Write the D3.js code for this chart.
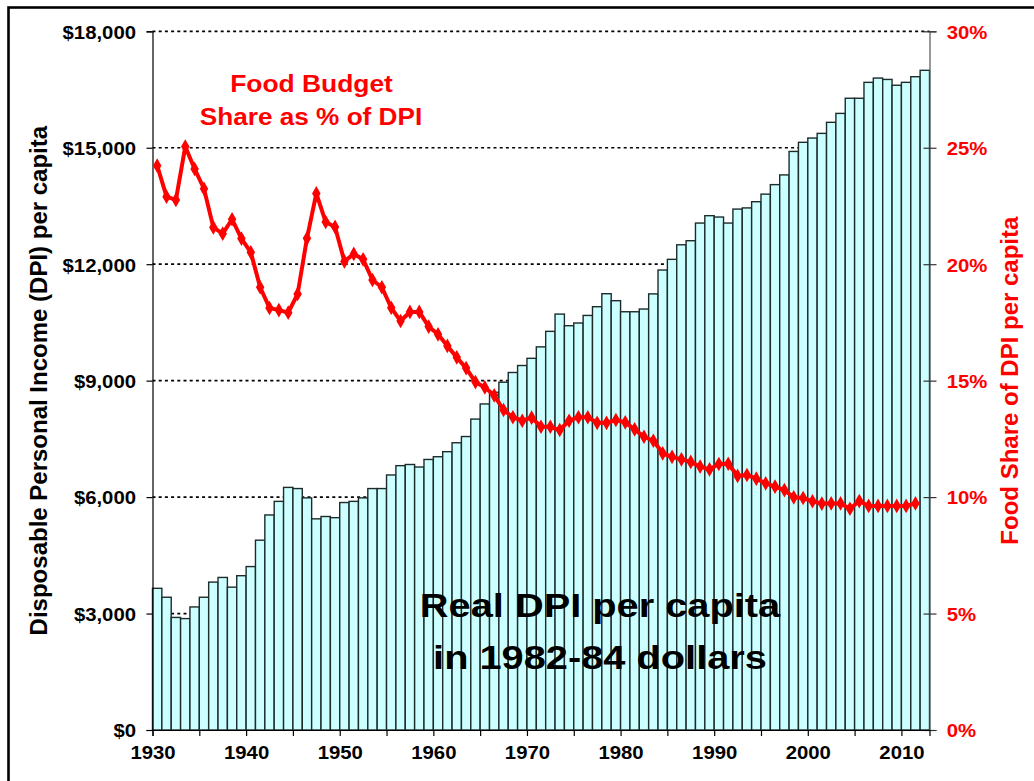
<!DOCTYPE html>
<html>
<head>
<meta charset="utf-8">
<script src="https://cdn.jsdelivr.net/npm/d3@7"></script>
<style>
  html, body { margin: 0; padding: 0; background: #fff; overflow: hidden; }
  svg { display: block; font-family: "Liberation Sans", Arial, sans-serif; }
</style>
</head>
<body>
<svg id="chart" width="1034" height="781"></svg>
<script>
// ---- data ----
const years = d3.range(1930, 2013); // 1930..2012
const dpiPerCapita = [
  3650, 3420, 2900, 2870, 3170, 3420, 3810, 3930, 3680, 3975,
  4210, 4890, 5540, 5890, 6250, 6220, 5980, 5440, 5500, 5470,
  5860, 5890, 5980, 6220, 6220, 6570, 6810, 6840, 6775, 6970,
  7040, 7170, 7400, 7560, 8010, 8400, 8700, 8960, 9210, 9390,
  9575, 9870, 10270, 10715, 10415, 10485, 10680, 10905, 11240, 11060,
  10775, 10775, 10845, 11235, 11850, 12125, 12500, 12605, 13060, 13250,
  13215, 13060, 13420, 13450, 13610, 13805, 14050, 14300, 14905, 15140,
  15250, 15370, 15655, 15885, 16275, 16275, 16685, 16795, 16760, 16610,
  16685, 16830, 16995
];
const foodYears = d3.range(1930, 2012); // 1930..2011
const foodShare = [
  24.23, 22.90, 22.76, 25.05, 24.09, 23.24, 21.58, 21.31, 21.93, 21.10,
  20.51, 19.01, 18.12, 18.03, 17.92, 18.72, 21.11, 23.04, 21.81, 21.60,
  20.12, 20.44, 20.21, 19.32, 19.01, 18.13, 17.56, 17.95, 17.95, 17.32,
  16.99, 16.49, 16.00, 15.54, 14.94, 14.71, 14.37, 13.74, 13.43, 13.28,
  13.41, 13.02, 13.02, 12.88, 13.28, 13.43, 13.43, 13.19, 13.19, 13.31,
  13.21, 12.91, 12.59, 12.42, 11.88, 11.73, 11.62, 11.51, 11.31, 11.19,
  11.42, 11.43, 10.91, 10.95, 10.79, 10.59, 10.45, 10.30, 9.99, 9.96,
  9.82, 9.72, 9.73, 9.73, 9.50, 9.83, 9.62, 9.62, 9.62, 9.62,
  9.62, 9.73
];
const leftTicks = [0, 3000, 6000, 9000, 12000, 15000, 18000];
const rightTicks = [0, 5, 10, 15, 20, 25, 30];
const xTickYears = d3.range(1930, 2011, 5);
const xLabelYears = [1930, 1940, 1950, 1960, 1970, 1980, 1990, 2000, 2010];

// ---- layout ----
const L = 152.5, R = 929.5, T = 31.3, B = 730;
const svg = d3.select("#chart");
const SX = 1.07; // horizontal stretch of glyphs in reference

const x = d3.scaleLinear().domain([1930, 2013]).range([L, R]);
const yL = d3.scaleLinear().domain([0, 18000]).range([B, T]);
const yR = d3.scaleLinear().domain([0, 30]).range([B, T]);

// frame
svg.append("rect").attr("x", 8.5).attr("y", 7.5).attr("width", 1100).attr("height", 900)
  .attr("fill", "#fff").attr("stroke", "#000").attr("stroke-width", 2.6);

// gridlines
svg.append("g").selectAll("line").data(leftTicks.filter(d => d > 0)).join("line")
  .attr("x1", L).attr("x2", R)
  .attr("y1", d => yL(d)).attr("y2", d => yL(d))
  .attr("stroke", "#000").attr("stroke-width", 1.7).attr("stroke-dasharray", "3,3.2");

// bars
svg.append("g").selectAll("rect").data(years).join("rect")
  .attr("x", d => x(d))
  .attr("width", d => x(d + 1) - x(d))
  .attr("y", (d, i) => yL(dpiPerCapita[i]))
  .attr("height", (d, i) => B - yL(dpiPerCapita[i]))
  .attr("fill", "#CCFFFF").attr("stroke", "#1d2b2b").attr("stroke-width", 1.4);

// axes
const gL = svg.append("g").attr("transform", `translate(${L},0)`)
  .call(d3.axisLeft(yL).tickValues(leftTicks).tickSize(6).tickPadding(0)
    .tickFormat(d => "$" + d3.format(",")(d)));
gL.select(".domain").attr("stroke", "#000").attr("stroke-width", 1.2);
gL.selectAll(".tick line").attr("stroke", "#000").attr("stroke-width", 1.2);
gL.selectAll(".tick text")
  .attr("x", -16.5 / SX).attr("dy", "0.36em")
  .attr("transform", `scale(${SX},1)`)
  .attr("font-size", 19).attr("font-weight", "bold").attr("fill", "#000")
  .attr("font-family", "'Liberation Sans', Arial, sans-serif");

const gR = svg.append("g").attr("transform", `translate(${R},0)`)
  .call(d3.axisRight(yR).tickValues(rightTicks).tickSize(7).tickPadding(0)
    .tickFormat(d => d + "%"));
gR.select(".domain").attr("stroke", "#555").attr("stroke-width", 1.2);
gR.selectAll(".tick line").attr("x1", -6).attr("stroke", "#333").attr("stroke-width", 1.2);
gR.selectAll(".tick text")
  .attr("x", 17.2 / SX).attr("dy", "0.36em")
  .attr("transform", `scale(${SX},1)`)
  .attr("font-size", 19).attr("font-weight", "bold").attr("fill", "#FF0000")
  .attr("font-family", "'Liberation Sans', Arial, sans-serif");

const gX = svg.append("g").attr("transform", `translate(0,${B})`)
  .call(d3.axisBottom(x).tickValues(xTickYears).tickSize(6)
    .tickFormat(d => xLabelYears.includes(d) ? String(d) : ""));
gX.select(".domain").attr("stroke", "#000").attr("stroke-width", 1.2);
gX.selectAll(".tick line").attr("stroke", "#000").attr("stroke-width", 1.2);
gX.selectAll(".tick text")
  .attr("y", 29).attr("dy", 0)
  .attr("transform", `scale(${SX},1)`)
  .attr("font-size", 19).attr("font-weight", "bold").attr("fill", "#000")
  .attr("font-family", "'Liberation Sans', Arial, sans-serif");

// food share line
const line = d3.line().x((d, i) => x(foodYears[i] + 0.5)).y(d => yR(d));
svg.append("path").datum(foodShare).attr("d", line)
  .attr("fill", "none").attr("stroke", "#FF0000").attr("stroke-width", 4)
  .attr("stroke-linejoin", "round");
svg.append("g").selectAll("path").data(foodShare).join("path")
  .attr("transform", (d, i) => `translate(${x(foodYears[i] + 0.5)},${yR(d)})`)
  .attr("d", d3.symbol().type(d3.symbolDiamond).size(62))
  .attr("fill", "#FF0000");

// axis titles
svg.append("text").attr("transform", `translate(47,${(T + B) / 2}) rotate(-90)`)
  .attr("text-anchor", "middle").attr("font-size", 24).attr("font-weight", "bold")
  .attr("fill", "#000").text("Disposable Personal Income (DPI) per capita");
svg.append("text").attr("transform", `translate(1018,${(T + B) / 2}) rotate(-90)`)
  .attr("text-anchor", "middle").attr("font-size", 24).attr("font-weight", "bold")
  .attr("fill", "#FF0000").text("Food Share of DPI per capita");

// annotations
const ann = [
  { t: "Food Budget", x: 311.5, y: 92.3, s: 24, c: "#FF0000", sx: 1.1 },
  { t: "Share as % of DPI", x: 311, y: 125, s: 24, c: "#FF0000", sx: 1.09 },
  { t: "Real DPI per capita", x: 600, y: 617, s: 34, c: "#000", sx: 1.17 },
  { t: "in 1982-84 dollars", x: 600, y: 669, s: 34, c: "#000", sx: 1.17 }
];
svg.append("g").selectAll("text").data(ann).join("text")
  .attr("transform", d => `translate(${d.x},${d.y}) scale(${d.sx},1)`)
  .attr("text-anchor", "middle").attr("font-size", d => d.s).attr("font-weight", "bold")
  .attr("fill", d => d.c).text(d => d.t);
</script>
</body>
</html>
